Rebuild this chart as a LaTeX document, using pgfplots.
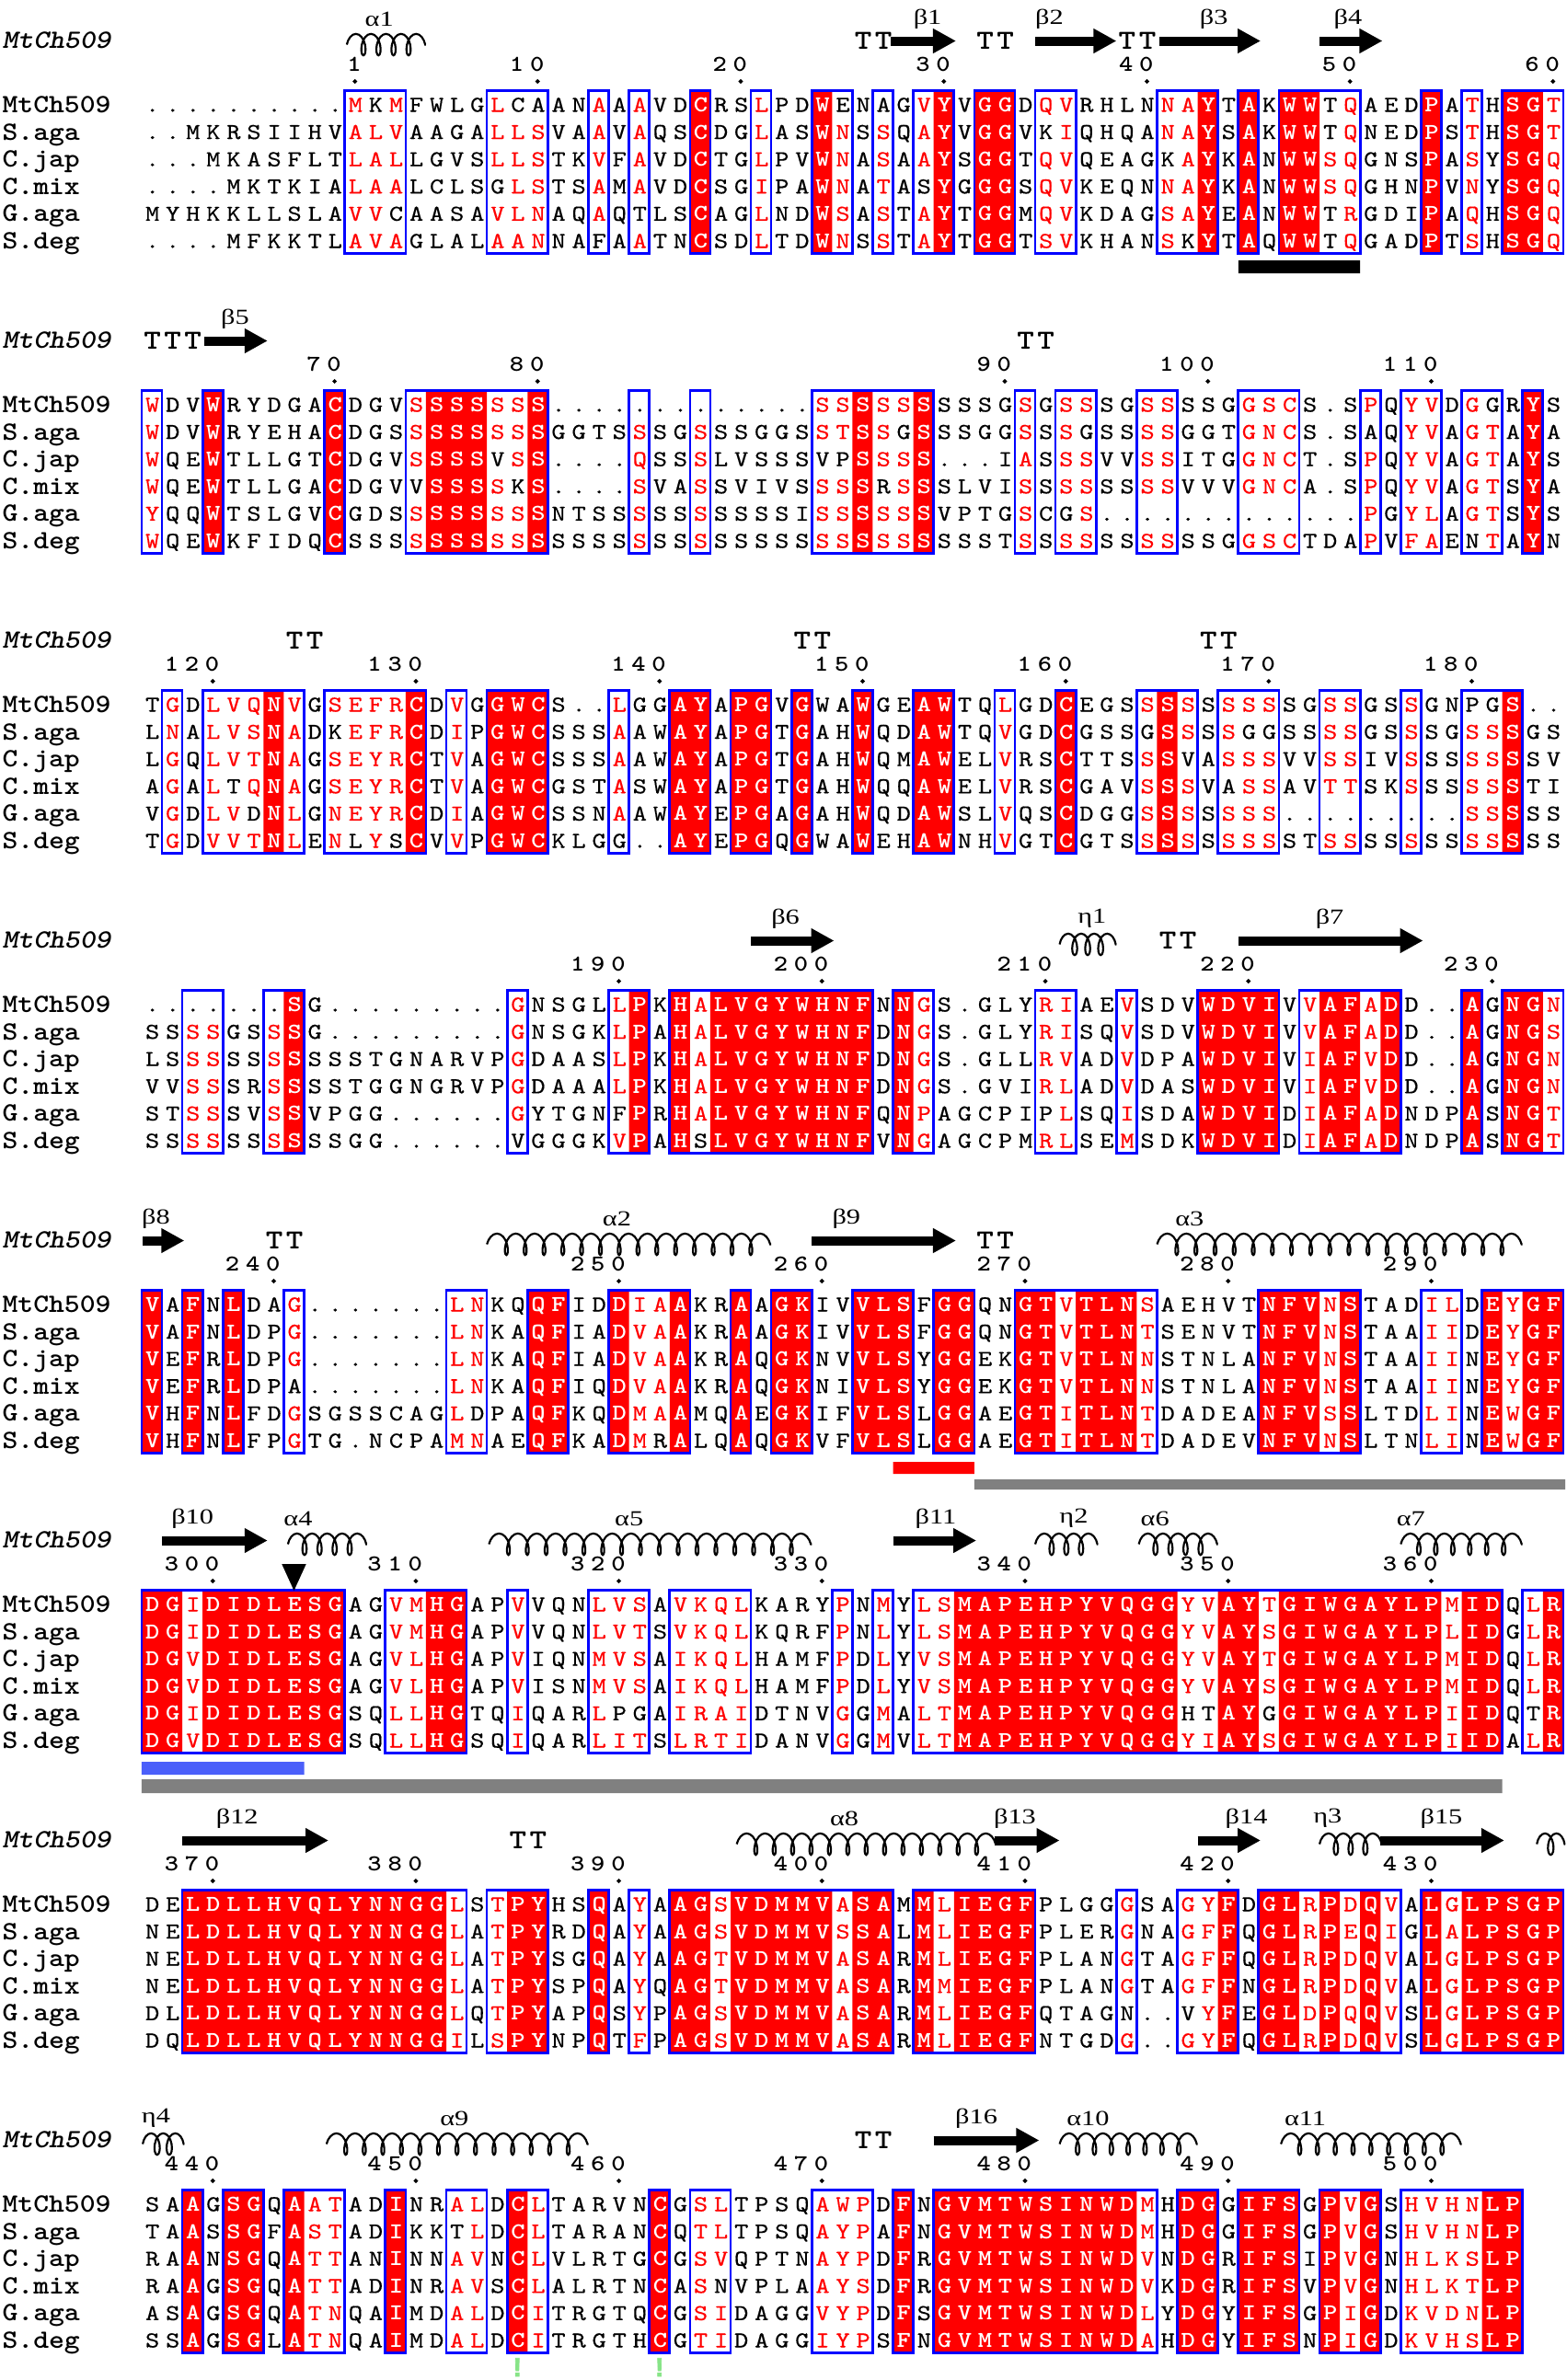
\documentclass[border=0pt]{standalone}
\usepackage{fontspec}
\usepackage{pgfplots}
\pgfplotsset{compat=1.18}
\usetikzlibrary{arrows.meta,decorations.pathmorphing}
\newfontfamily\seqfont{lmmono10-regular}[Extension=.otf,BoldFont=lmmonolt10-bold,BoldItalicFont=lmmonolt10-boldoblique,FakeStretch=1.18,UprightFeatures={FakeBold=0.4}]
\newfontfamily\namefont{lmmonolt10-bold}[Extension=.otf,ItalicFont=lmmonolt10-boldoblique,FakeStretch=1.12]
\newfontfamily\lblfont{Liberation Serif}[FakeStretch=1.3]
\newfontfamily\gfont{Liberation Sans Bold}[FakeBold=2.5]
\definecolor{espred}{RGB}{255,0,0}
\definecolor{espblue}{RGB}{0,0,255}
\definecolor{espgreen}{RGB}{135,228,135}
\definecolor{espgray}{RGB}{128,128,128}
\definecolor{espbar}{RGB}{75,95,250}
\newcommand\seqsize{\seqfont\fontsize{7.4bp}{8bp}\selectfont}
\newcommand\namesize{\namefont\fontsize{8.6bp}{9bp}\selectfont}
\newcommand\hdrsize{\namefont\itshape\fontsize{8.6bp}{9bp}\selectfont}
\newcommand\numsize{\seqfont\bfseries\fontsize{7.4bp}{8bp}\selectfont}
\newcommand\ttsize{\seqfont\bfseries\fontsize{9bp}{10bp}\selectfont}
\newcommand\lblsize{\lblfont\fontsize{7bp}{8bp}\selectfont}
\newcommand\gsize{\gfont\fontsize{8.6bp}{9bp}\selectfont}
\newdimen\espcolw \espcolw=6.621bp
\pgfplotsset{espfill/.style={fill=espred,draw=none},
  espframe/.style={draw=espblue,line width=0.8bp,fill=none,line cap=rect,line join=miter}}
\makeatletter
\newcount\esp@col
\def\esprow#1#2{\def\esp@fills{,#1,}\esp@col=0 \esp@loop#2\relax}
\def\esp@loop#1{\ifx#1\relax\else\esp@char#1\advance\esp@col by 1 \expandafter\esp@loop\fi}
\def\esp@char#1{%
  \edef\esp@tmp{\noexpand\in@{,\the\esp@col,}{\esp@fills}}\esp@tmp
  \hbox to \espcolw{\hss
    \ifin@{\color{white}\bfseries\uppercase{#1}}%
    \else\ifnum\uccode`#1=\z@ #1%
    \else\ifnum\uccode`#1=`#1 #1%
    \else{\color{espred}\uppercase{#1}}%
    \fi\fi\fi\hss}}
\def\esp@run#1/#2\relax#3#4{%
  \pgfmathsetmacro\esp@xa{#1-0.5}\pgfmathsetmacro\esp@xb{#2+0.5}%
  \pgfmathsetmacro\esp@ya{#3-16}\pgfmathsetmacro\esp@yb{#3+161}%
  \edef\esp@do{\noexpand\addplot[#4] coordinates {(\esp@xa,\esp@ya) (\esp@xb,\esp@ya) (\esp@xb,\esp@yb) (\esp@xa,\esp@yb) (\esp@xa,\esp@ya)};}\esp@do}
\def\espfills#1#2{\pgfplotsforeachungrouped\esp@r in {#2}{\expandafter\esp@run\esp@r\relax{#1}{espfill}}}
\def\espframes#1#2{\pgfplotsforeachungrouped\esp@r in {#2}{\expandafter\esp@run\esp@r\relax{#1}{espframe}}}
\def\espexpand#1{\gdef\espfilllist{}\foreach \esp@a/\esp@b in {#1}{\foreach \esp@k in {\esp@a,...,\esp@b}{\xdef\espfilllist{\espfilllist,\esp@k}}}}
\def\esprownode#1#2{%
  \pgfmathsetmacro\esp@y{#1+7}%
  \edef\esp@do{\noexpand\node[anchor=base west,inner sep=0pt,font=\noexpand\seqsize] at (axis cs:-0.5,\esp@y) {\noexpand\esprow{\espfilllist}{#2}};}\esp@do}
\def\espname#1#2{\pgfmathsetmacro\esp@y{#1+8}%
  \edef\esp@do{\noexpand\node[anchor=base west,inner sep=0pt,font=\noexpand\namesize] at (axis cs:-7.39,\esp@y) {#2};}\esp@do}
\newcommand\espblock[9]{%
  \espexpand{#2}%
  \espfills{#1}{#2}\espframes{#1}{#3}%
  \esprownode{#1}{#4}\espname{#1}{MtCh509}%
  \esprownode{#1+29.6}{#5}\espname{#1+29.6}{S.aga}%
  \esprownode{#1+59.2}{#6}\espname{#1+59.2}{C.jap}%
  \esprownode{#1+88.8}{#7}\espname{#1+88.8}{C.mix}%
  \esprownode{#1+118.4}{#8}\espname{#1+118.4}{G.aga}%
  \esprownode{#1+148}{#9}\espname{#1+148}{S.deg}%
  \pgfmathsetmacro\esp@y{#1-62}%
  \edef\esp@do{\noexpand\node[anchor=base west,inner sep=0pt,font=\noexpand\hdrsize] at (axis cs:-7.39,\esp@y) {MtCh509};}\esp@do}
\def\espnums#1#2{%
  \gdef\esp@dots{}%
  \pgfmathsetmacro\esp@yd{#1-26}%
  \pgfplotsforeachungrouped\esp@r in {#2}{\expandafter\esp@numone\esp@r\relax{#1}}%
  \edef\esp@do{\noexpand\addplot[only marks,mark=*,mark size=0.5bp,black] coordinates {\esp@dots};}\esp@do}
\def\esp@numone#1/#2\relax#3{%
  \pgfmathsetmacro\esp@x{#1+0.5}\pgfmathsetmacro\esp@y{#3-37.5}%
  \xdef\esp@dots{\esp@dots (#1,\esp@yd)}%
  \edef\esp@do{\noexpand\node[anchor=base east,inner sep=0pt,font=\noexpand\numsize] at (axis cs:\esp@x,\esp@y) {\noexpand\esprow{}{#2}};}\esp@do}
\def\esptt#1#2{\pgfplotsforeachungrouped\esp@r in {#2}{\expandafter\esp@ttone\esp@r\relax{#1}}}
\def\esp@ttone#1/#2\relax#3{\pgfmathsetmacro\esp@x{#1-0.5}\pgfmathsetmacro\esp@y{#3-61}%
  \edef\esp@do{\noexpand\node[anchor=base west,inner sep=0pt,font=\noexpand\ttsize] at (axis cs:\esp@x,\esp@y) {\noexpand\esprow{}{#2}};}\esp@do}
\def\esplab#1#2#3{\pgfmathsetmacro\esp@y{#1-94}%
  \edef\esp@do{\noexpand\node[inner sep=0pt,font=\noexpand\lblsize] at (axis cs:#2,\esp@y) {#3};}\esp@do}
\def\esparrow#1#2#3{\pgfmathsetmacro\esp@y{#1-70}%
  \edef\esp@do{\noexpand\addplot[black,line width=3bp,-{Triangle[length=7.5bp,width=7.6bp]}] coordinates {(#2,\esp@y) (#3,\esp@y)};}\esp@do}
\def\esphelix#1#2#3#4{\pgfmathsetmacro\esp@y{#1-66}%
  \pgfmathsetmacro\esp@sl{((#3-#2)*6.621-3.5)/(#4+0.55)}%
  \edef\esp@do{\noexpand\addplot[black,line width=0.65bp,decorate,decoration={coil,aspect=0.5,segment length=\esp@sl bp,amplitude=3.5bp}] coordinates {(#2,\esp@y) (#3,\esp@y)};}\esp@do}
\def\esprect#1#2#3#4#5{\addplot[fill=#5,draw=none] coordinates {(#1,#3) (#2,#3) (#2,#4) (#1,#4) (#1,#3)};}
\makeatother
\begin{document}
\begin{tikzpicture}
\begin{axis}[width=510.6bp,height=776.1bp,scale only axis,
  xmin=-7.4762,xmax=69.642,ymin=0,ymax=2587,y dir=reverse,
  hide axis,clip=false]
% ---------------- block 1
\espblock{114.5}{27/27,33/33,39/39,41/42,52/52,54/54,56/57,63/63,67/68}
{10/12,17/19,22/22,24/24,27/27,30/30,33/34,36/36,38/39,41/42,44/45,50/52,54/54,56/59,63/63,65/65,67/69}
{..........mKmFWLGlCAANaAaVDCRSlPDWENAGvYVGGDqvRHLNnaYTAKWWTqAEDPAtHSGt}
{..MKRSIIHValvAAGAllsVAaVaQSCDGlASWnSsQaYVGGVKiQHQAnaYSAKWWTqNEDPStHSGt}
{...MKASFLTlalLGVSllsTKvFaVDCTGlPVWnAsAaYSGGTqvQEAGKaYKANWWsqGNSPAsYSGq}
{....MKTKIAlaaLCLSGlsTSaMaVDCSGiPAWnAtASYGGGSqvKEQNnaYKANWWsqGHNPVnYSGq}
{MYHKKLLSLAvvCAASAvlnAQaQTLSCAGlNDWsAsTaYTGGMqvKDAGsaYEANWWTrGDIPAqHSGq}
{....MFKKTLavaGLALaanNAFAaTNCSDlTDWnSsTaYTGGTsvKHANsKYTAQWWTqGADPTsHSGq}
\espnums{114.5}{10/1,19/10,29/20,39/30,49/40,59/50,69/60}
\esptt{114.5}{35/TT,41/TT,48/TT}
\esphelix{114.5}{9.6}{13.5}{4}
\esparrow{114.5}{36.4}{39.6}\esparrow{114.5}{43.5}{47.5}\esparrow{114.5}{49.6}{54.6}\esparrow{114.5}{57.5}{60.6}
\esplab{114.5}{11.2}{α1}\esplab{114.5}{38.2}{β1}\esplab{114.5}{44.2}{β2}\esplab{114.5}{52.3}{β3}\esplab{114.5}{58.9}{β4}
\esprect{53.5}{59.5}{283}{297}{black}
% ---------------- block 2
\espblock{440.5}{3/3,9/9,14/16,19/19,35/35,38/38,68/68}
{0/0,3/3,9/9,13/19,24/24,27/27,33/38,43/43,45/46,49/50,54/56,60/60,62/63,65/66,68/68}
{wDVWRYDGACDGVsSSSssS.............ssSssSSSSGsGssSGssSSGgscS.SpQyvDgGRYS}
{wDVWRYEHACDGSsSSSssSGGTSsSGsSSGGSstSsGSSSGGsSsGSSssGGTgncS.SAQyvAgtAYA}
{wQEWTLLGTCDGVsSSSVsS....qSSsLVSSSVPSssS...IaSssVVssITGgncT.SpQyvAgtAYS}
{wQEWTLLGACDGVVSSSsKS....sVAsSVIVSssSRsSSLVIsSssSSssVVVgncA.SpQyvAgtSYA}
{yQQWTSLGVCGDSsSSSssSNTSSsSSsSSSSIssSssSVPTGsCGs.............pGylAgtSYS}
{wQEWKFIDQCSSSsSSSssSSSSSsSSsSSSSSssSssSSSSTsSssSSssSSGgscTDApVfaENtAYN}
\espnums{440.5}{9/70,19/80,42/90,52/100,63/110}
\esptt{440.5}{0/TTT,43/TT}
\esparrow{440.5}{2.6}{5.7}
\esplab{440.5}{4.1}{β5}
% ---------------- block 3
\espblock{766.5}{6/6,13/13,17/19,26/27,29/30,32/32,35/35,38/39,45/45,50/50,67/67}
{1/1,3/7,9/13,15/15,17/19,23/23,26/27,29/30,32/32,35/35,38/39,42/42,45/45,49/51,53/55,58/59,62/62,65/67}
{TgDlvqNvGsefrCDvGGWCS..lGGAYAPGVGWAWGEAWTQlGDCEGSsSsSsssSGssGSsGNPGS..}
{LnAlvsNaDKefrCDiPGWCSSSaAWAYAPGTGAHWQDAWTQvGDCGSSGSsSsGGSSssGSsSGssSGS}
{LgQlvtNaGseyrCTvAGWCSSSaAWAYAPGTGAHWQMAWELvRSCTTSsSVAsssVVssIVsSSssSSV}
{AgAlTqNaGseyrCTvAGWCGSTaSWAYAPGTGAHWQQAWELvRSCGAVsSsVAssAVttSKsSSssSTI}
{VgDlvDNlGneyrCDiAGWCSSNaAWAYEPGAGAHWQDAWSLvQSCDGGsSsSsss.........ssSSS}
{TgDvvtNlEnLySCVvPGWCKLGG..AYEPGQGWAWEHAWNHvGTCGTSsSsSsssSTssSSsSSssSSS}
\espnums{766.5}{3/120,13/130,25/140,35/150,45/160,55/170,65/180}
\esptt{766.5}{7/TT,32/TT,52/TT}
% ---------------- block 4
\espblock{1092.5}{7/7,24/24,26/26,28/35,37/37,52/55,58/59,61/61,65/65,67/68}
{2/3,6/7,18/18,23/24,26/35,37/38,44/45,48/48,52/55,57/61,65/65,67/69}
{.......SG.........gNSGLlPKHaLVGYWHNFNNgS.GLYriAEvSDVWDVIVvAFaDD..AGNGn}
{SSssGSsSG.........gNSGKlPAHaLVGYWHNFDNgS.GLYriSQvSDVWDVIVvAFaDD..AGNGs}
{LSssSSsSSSSTGNARVPgDAASlPKHaLVGYWHNFDNgS.GLLrvADvDPAWDVIViAFvDD..AGNGn}
{VVssSRsSSSTGGNGRVPgDAAAlPKHaLVGYWHNFDNgS.GVIrlADvDASWDVIViAFvDD..AGNGn}
{STssSVsSVPGG......gYTGNFPRHaLVGYWHNFQNpAGCPIPlSQiSDAWDVIDiAFaDNDPASNGt}
{SSssSSsSSSGG......VGGGKvPAHSLVGYWHNFVNgAGCPMrlSEmSDKWDVIDiAFaDNDPASNGt}
\espnums{1092.5}{23/190,33/200,44/210,54/220,66/230}
\esptt{1092.5}{50/TT}
\esparrow{1092.5}{29.5}{33.6}\esparrow{1092.5}{53.5}{62.6}
\esphelix{1092.5}{44.7}{47.5}{3}
\esplab{1092.5}{31.2}{β6}\esplab{1092.5}{46.3}{η1}\esplab{1092.5}{58.0}{β7}
% ---------------- block 5
\espblock{1418.5}{0/0,2/2,4/4,19/20,23/23,26/26,29/29,31/32,35/37,39/40,43/44,46/48,55/57,59/59,66/66,68/69}
{0/0,2/2,4/4,7/7,15/16,19/20,23/26,29/29,31/32,35/37,39/40,43/49,55/59,63/64,66/69}
{VAFNLDAg.......lnKQQFIDDiaAKRAAGKIVVLSFGGQNGTvTLNsAEHVTNFVnSTADilDEyGF}
{VAFNLDPg.......lnKAQFIADvaAKRAAGKIVVLSFGGQNGTvTLNtSENVTNFVnSTAAiiDEyGF}
{VEFRLDPg.......lnKAQFIADvaAKRAQGKNVVLSYGGEKGTvTLNnSTNLANFVnSTAAiiNEyGF}
{VEFRLDPA.......lnKAQFIQDvaAKRAQGKNIVLSYGGEKGTvTLNnSTNLANFVnSTAAiiNEyGF}
{VHFNLFDgSGSSCAGlDPAQFKQDmaAMQAEGKIFVLSLGGAEGTiTLNtDADEANFVsSLTDliNEwGF}
{VHFNLFPgTG.NCPAmnAEQFKADmRALQAQGKVFVLSLGGAEGTiTLNtDADEVNFVnSLTNliNEwGF}
\espnums{1418.5}{6/240,23/250,33/260,43/270,53/280,63/290}
\esptt{1418.5}{6/TT,41/TT}
\esparrow{1418.5}{-0.45}{1.6}\esparrow{1418.5}{32.5}{39.6}
\esphelix{1418.5}{16.5}{30.5}{14}\esphelix{1418.5}{49.5}{67.5}{18}
\esplab{1418.5}{0.2}{β8}\esplab{1418.5}{22.9}{α2}\esplab{1418.5}{34.2}{β9}\esplab{1418.5}{51.1}{α3}
\esprect{36.5}{40.5}{1589}{1602}{espred}
\esprect{40.5}{69.6}{1608}{1619}{espgray}
% ---------------- block 6
\espblock{1744.5}{0/1,3/9,14/15,40/50,53/54,56/63,65/66,69/69}
{0/9,12/15,18/18,22/24,26/29,34/34,36/36,38/66,68/69}
{DGiDIDLESGAGvmHGAPvVQNlvsAvkqlKARYpNmYlsMAPEHPYVQGGyvAYtGIWGAYLPmIDQlR}
{DGiDIDLESGAGvmHGAPvVQNlvtSvkqlKQRFpNlYlsMAPEHPYVQGGyvAYsGIWGAYLPlIDGlR}
{DGvDIDLESGAGvlHGAPvIQNmvsAikqlHAMFpDlYvsMAPEHPYVQGGyvAYtGIWGAYLPmIDQlR}
{DGvDIDLESGAGvlHGAPvISNmvsAikqlHAMFpDlYvsMAPEHPYVQGGyvAYsGIWGAYLPmIDQlR}
{DGiDIDLESGSQllHGTQiQARlPGAiraiDTNVgGmAltMAPEHPYVQGGHTAYGGIWGAYLPiIDQTR}
{DGvDIDLESGSQllHGSQiQARlitSlrtiDANVgGmVltMAPEHPYVQGGyiAYsGIWGAYLPiIDAlR}
\espnums{1744.5}{3/300,13/310,23/320,33/330,43/340,53/350,63/360}
\esparrow{1744.5}{0.5}{5.7}\esparrow{1744.5}{36.5}{40.6}
\esphelix{1744.5}{6.7}{10.6}{4}\esphelix{1744.5}{16.6}{32.5}{16}\esphelix{1744.5}{43.5}{46.6}{3}\esphelix{1744.5}{48.6}{52.5}{4}\esphelix{1744.5}{61.5}{67.5}{6}
\esplab{1744.5}{2.0}{β10}\esplab{1744.5}{7.2}{α4}\esplab{1744.5}{23.5}{α5}\esplab{1744.5}{38.6}{β11}\esplab{1744.5}{45.4}{η2}\esplab{1744.5}{49.4}{α6}\esplab{1744.5}{62.0}{α7}
\addplot[fill=black,draw=none] coordinates {(6.4,1700) (7.6,1700) (7,1729) (6.4,1700)};
\esprect{-0.5}{7.5}{1915}{1929}{espbar}
\esprect{-0.5}{66.5}{1934}{1949}{espgray}
% ---------------- block 7
\espblock{2070.5}{2/14,18/19,22/22,26/27,29/33,35/36,38/38,40/43,53/53,55/56,58/58,60/60,63/63,65/69}
{2/15,17/19,22/22,24/24,26/36,38/43,48/48,51/53,55/61,63/69}
{DELDLLHVQLYNNGGlStPYHSQAyAAGsVDMMVaSAMMlIEGFPLGGgSAgyFDGLrPdQvALgLPSGP}
{NELDLLHVQLYNNGGlAtPYRDQAyAAGsVDMMVsSALMlIEGFPLERgNAgfFQGLrPeQiGLaLPSGP}
{NELDLLHVQLYNNGGlAtPYSGQAyAAGtVDMMVaSARMlIEGFPLANgTAgfFQGLrPdQvALgLPSGP}
{NELDLLHVQLYNNGGlAtPYSPQAyQAGtVDMMVaSARMmIEGFPLANgTAgfFNGLrPdQvALgLPSGP}
{DLLDLLHVQLYNNGGlQtPYAPQSyPAGsVDMMVaSARMlIEGFQTAGN..VyFEGLdPqQvSLgLPSGP}
{DQLDLLHVQLYNNGGiLsPYNPQTfPAGsVDMMVaSARMlIEGFNTGDg..gyFQGLrPdQvSLgLPSGP}
\espnums{2070.5}{3/370,13/380,23/390,33/400,43/410,53/420,63/430}
\esptt{2070.5}{18/TT}
\esparrow{2070.5}{1.5}{8.7}\esparrow{2070.5}{41.5}{44.7}\esparrow{2070.5}{51.5}{54.6}\esparrow{2070.5}{60.5}{66.6}
\esphelix{2070.5}{28.8}{41.6}{13}\esphelix{2070.5}{57.5}{60.6}{3}\esphelix{2070.5}{68.2}{69.6}{1}
\esplab{2070.5}{4.2}{β12}\esplab{2070.5}{34.1}{α8}\esplab{2070.5}{42.5}{β13}\esplab{2070.5}{53.9}{β14}\esplab{2070.5}{57.9}{η3}\esplab{2070.5}{63.5}{β15}
% ---------------- block 8
\espblock{2396.5}{2/2,4/5,7/7,12/12,18/18,25/25,37/37,39/48,51/52,54/56,58/58,60/60,66/67}
{2/2,4/5,7/9,12/12,15/16,18/19,25/25,27/28,33/35,37/37,39/49,51/52,54/56,58/60,62/67}
{SAAGSGQAatADINRalDClTARVNCGslTPSQawpDFNGVMTWSINWDmHDGGIFSGPvGShvhnLP}
{TAASSGFAstADIKKTlDClTARANCQtlTPSQaypAFNGVMTWSINWDmHDGGIFSGPvGShvhnLP}
{RAANSGQAttANINNavNClVLRTGCGsvQPTNaypDFRGVMTWSINWDvNDGRIFSIPvGNhlksLP}
{RAAGSGQAttADINRavSClALRTNCAsNVPLAaysDFRGVMTWSINWDvKDGRIFSVPvGNhlktLP}
{ASAGSGQAtnQAIMDalDCiTRGTQCGsiDAGGvypDFSGVMTWSINWDlYDGYIFSGPiGDkvdnLP}
{SSAGSGLAtnQAIMDalDCiTRGTHCGtiDAGGiypSFNGVMTWSINWDaHDGYIFSNPiGDkvhsLP}
\espnums{2396.5}{3/440,13/450,23/460,33/470,43/480,53/490,63/500}
\esptt{2396.5}{35/TT}
\esparrow{2396.5}{38.5}{43.7}
\esphelix{2396.5}{-0.45}{1.6}{2}\esphelix{2396.5}{8.6}{21.5}{13}\esphelix{2396.5}{44.7}{51.5}{7}\esphelix{2396.5}{55.6}{64.5}{9}
\esplab{2396.5}{0.2}{η4}\esplab{2396.5}{14.9}{α9}\esplab{2396.5}{40.6}{β16}\esplab{2396.5}{46.1}{α10}\esplab{2396.5}{56.8}{α11}
\node[anchor=base,inner sep=0pt,text=espgreen,font=\gsize] at (axis cs:18,2583) {!};
\node[anchor=base,inner sep=0pt,text=espgreen,font=\gsize] at (axis cs:25,2583) {!};
\end{axis}
\pgfresetboundingbox
\path[use as bounding box] (current axis.south west) rectangle (current axis.north east);
\end{tikzpicture}
\end{document}
